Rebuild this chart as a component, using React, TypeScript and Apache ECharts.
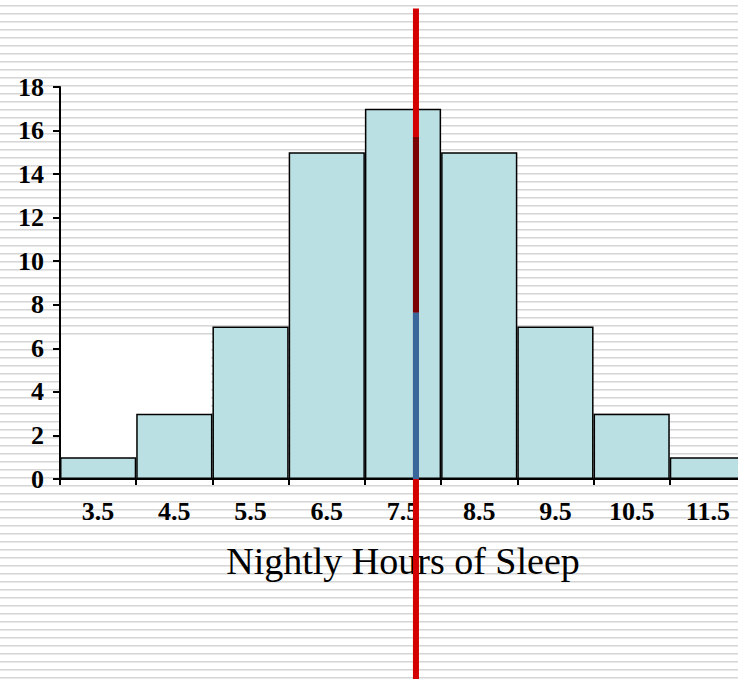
import React, { useEffect, useRef } from "react";
import * as echarts from "echarts";

// Histogram of nightly sleep, one bar per one-hour bin
const binLabels = ["3.5", "4.5", "5.5", "6.5", "7.5", "8.5", "9.5", "10.5", "11.5"];
const binCounts = [1, 3, 7, 15, 17, 15, 7, 3, 1];
const binEdges = [3, 12];
const yTicks = { min: 0, max: 18, step: 2 };

// Marker line at the mean, with its shaded spans
const meanHours = 7.67;
const markerSpan = [21.6, -9.5];
const darkSpan = [15.7, 7.65];
const blueSpan = [7.65, 0];

const serif = '"Liberation Serif", "Times New Roman", serif';

export default function App() {
  const ref = useRef<HTMLDivElement>(null);

  useEffect(() => {
    document.body.style.margin = "0";
    if (!ref.current) return;
    const chart = echarts.init(ref.current, null, { renderer: "svg" });
    chart.setOption({
      animation: false,
      backgroundColor: "transparent",
      grid: { left: 60, right: 14, top: 87, bottom: 200 },
      graphic: [
        {
          type: "rect",
          z: -10,
          shape: { x: 61, y: 340, width: 150, height: 139 },
          style: { fill: "#ffffff" },
        },
        {
          type: "text",
          z: 0,
          x: 403,
          y: 561,
          style: {
            text: "Nightly Hours of Sleep",
            font: `38px ${serif}`,
            fill: "#000",
            textAlign: "center",
            textVerticalAlign: "middle",
          },
        },
      ],
      xAxis: [
        {
          type: "category",
          data: binLabels,
          boundaryGap: true,
          axisLine: { lineStyle: { color: "#000", width: 2 } },
          axisTick: { show: true, interval: 0, length: 6, lineStyle: { color: "#000", width: 2 } },
          axisLabel: {
            interval: 0,
            margin: 19,
            color: "#000",
            fontFamily: serif,
            fontWeight: "bold",
            fontSize: 26,
          },
        },
        {
          type: "value",
          min: binEdges[0],
          max: binEdges[1],
          show: false,
        },
      ],
      yAxis: {
        type: "value",
        min: yTicks.min,
        max: yTicks.max,
        interval: yTicks.step,
        splitLine: { show: false },
        axisLine: { show: true, lineStyle: { color: "#000", width: 2 } },
        axisTick: { show: true, length: 7, lineStyle: { color: "#000", width: 2 } },
        axisLabel: {
          margin: 16,
          color: "#000",
          fontFamily: serif,
          fontWeight: "bold",
          fontSize: 26,
        },
      },
      series: [
        {
          type: "bar",
          data: binCounts,
          barCategoryGap: "0%",
          z: 2,
          itemStyle: { color: "#bbe0e3", borderColor: "#000", borderWidth: 1.5 },
        },
        {
          type: "line",
          xAxisIndex: 1,
          clip: false,
          z: 5,
          symbol: "none",
          lineStyle: { color: "#d40000", width: 6 },
          data: markerSpan.map((v) => [meanHours, v]),
        },
        {
          type: "line",
          xAxisIndex: 1,
          clip: false,
          z: 6,
          symbol: "none",
          lineStyle: { color: "#7c0000", width: 6 },
          data: darkSpan.map((v) => [meanHours, v]),
        },
        {
          type: "line",
          xAxisIndex: 1,
          clip: false,
          z: 6,
          symbol: "none",
          lineStyle: { color: "#3a679b", width: 6 },
          data: blueSpan.map((v) => [meanHours, v]),
        },
      ],
    });
    return () => chart.dispose();
  }, []);

  return (
    <div
      style={{
        position: "fixed",
        left: 0,
        top: 0,
        width: 738,
        height: 679,
        overflow: "hidden",
        background:
          "repeating-linear-gradient(to bottom, #ffffff 0px, #ffffff 5px, #d6d6d6 5px, #d6d6d6 6px, #e8e8e8 6px, #e8e8e8 7px, #ffffff 7px, #ffffff 8px)",
      }}
    >
      <div ref={ref} style={{ width: 760, height: 679 }} />
    </div>
  );
}
